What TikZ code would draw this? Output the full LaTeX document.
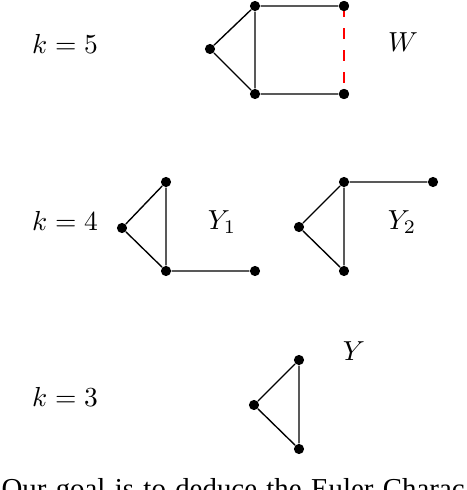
\documentclass[tikz,border=0pt]{standalone}
\usepackage{fontspec}
\newfontfamily\tnr{Liberation Serif}
\begin{document}
\begin{tikzpicture}[x=0.3636pt,y=-0.3636pt,
  dot/.style={circle,fill=black,inner sep=0pt,minimum size=3.7pt},
  edge/.style={draw=black,line width=0.5pt},
  redge/.style={draw=red,line width=0.8pt,dash pattern=on 4pt off 4pt},
  lbl/.style={inner sep=0pt}]
\useasboundingbox (0,0) rectangle (466,490);
\clip (0,0) rectangle (466,490);
% k = 5 : W
\node[lbl] (k5) at (65,44) {$k=5$};
\node[dot] (w1) at (210,49) {};
\node[dot] (w2) at (255,6) {};
\node[dot] (w3) at (255,94) {};
\node[dot] (w4) at (344,6) {};
\node[dot] (w5) at (344,94) {};
\draw[edge] (w1) -- (w2) (w1) -- (w3) (w2) -- (w3) (w2) -- (w4) (w3) -- (w5);
\draw[redge] (w4.center) -- (w5.center);
\node[dot] at (w4) {};
\node[dot] at (w5) {};
\node[lbl] (W) at (403,42) {$W$};
% k = 4 : Y1, Y2
\node[lbl] (k4) at (65,221) {$k=4$};
\node[dot] (a1) at (122,228) {};
\node[dot] (a2) at (166,182) {};
\node[dot] (a3) at (166,271) {};
\node[dot] (a4) at (255,271) {};
\draw[edge] (a1) -- (a2) (a1) -- (a3) (a2) -- (a3) (a3) -- (a4);
\node[lbl] (Y1) at (222,222) {$Y_1$};
\node[dot] (b1) at (299,227) {};
\node[dot] (b2) at (344,182) {};
\node[dot] (b3) at (344,271) {};
\node[dot] (b4) at (433,182) {};
\draw[edge] (b1) -- (b2) (b1) -- (b3) (b2) -- (b3) (b2) -- (b4);
\node[lbl] (Y2) at (402,222) {$Y_2$};
% k = 3 : Y
\node[lbl] (k3) at (65,397) {$k=3$};
\node[dot] (c1) at (254,405) {};
\node[dot] (c2) at (299,360) {};
\node[dot] (c3) at (299,449) {};
\draw[edge] (c1) -- (c2) (c1) -- (c3) (c2) -- (c3);
\node[lbl] (Y) at (354,351) {$Y$};
% caption fragment
\node[lbl,anchor=base west] (cap) at (1,498.5) {\tnr\fontsize{10.5pt}{12pt}\selectfont\spaceskip=3.4pt Our goal is to deduce the Euler Charac};
\end{tikzpicture}
\end{document}
